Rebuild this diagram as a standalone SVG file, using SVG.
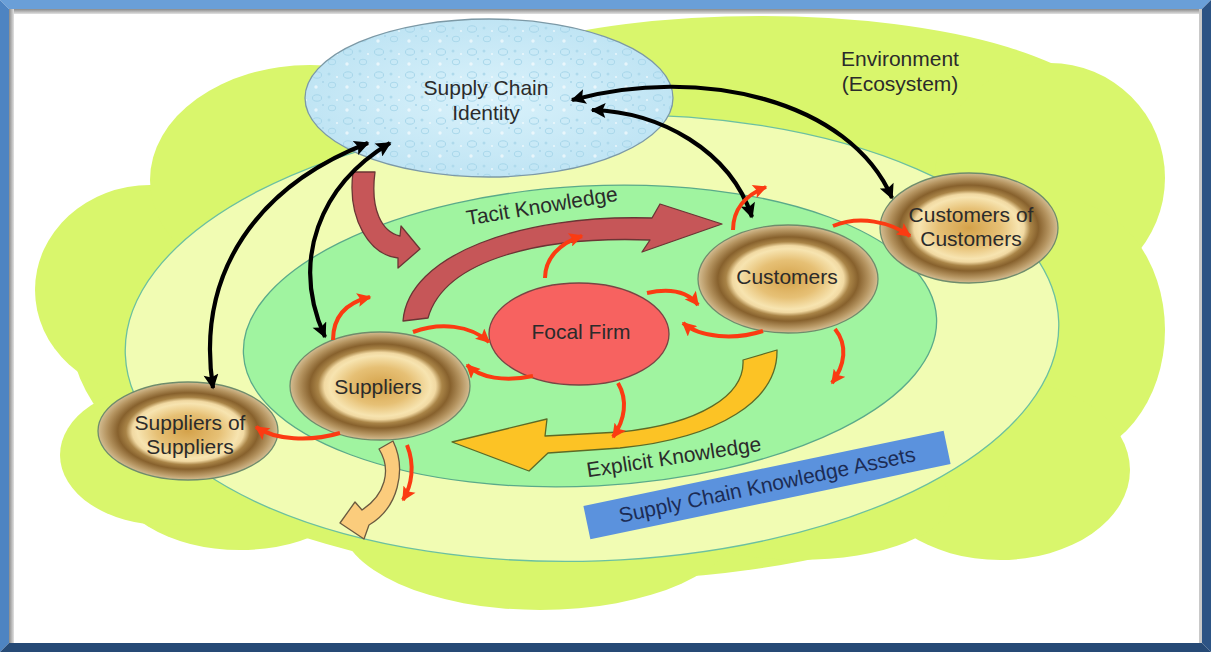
<svg xmlns="http://www.w3.org/2000/svg" width="1211" height="652" viewBox="0 0 1211 652">
  <defs>
    <style>
      .lbl { font-family: "Liberation Sans", Arial, sans-serif; font-size: 21px; fill: #2b2b2b; text-anchor: middle; }
      .ring { stroke: #6f8c6c; stroke-width: 1.3; fill: url(#ringGrad); }
      .blk { fill: none; stroke: #000; stroke-width: 4.2; marker-start: url(#bkHead); marker-end: url(#bkHead); }
      .red { fill: none; stroke: #fb3b12; stroke-width: 4; marker-end: url(#rdHead); }
      .cloud { fill: #d9f66c; }
    </style>
    <radialGradient id="ringGrad" cx="50%" cy="50%" r="50%">
      <stop offset="0%" stop-color="#d4a24a"/>
      <stop offset="35%" stop-color="#e6c075"/>
      <stop offset="56%" stop-color="#f7e4b0"/>
      <stop offset="62%" stop-color="#f1d9a2"/>
      <stop offset="69%" stop-color="#a98447"/>
      <stop offset="78%" stop-color="#87612d"/>
      <stop offset="90%" stop-color="#b4935f"/>
      <stop offset="100%" stop-color="#d4bd92"/>
    </radialGradient>
    <radialGradient id="sciGrad" cx="50%" cy="50%" r="55%">
      <stop offset="0%" stop-color="#daf2fb"/>
      <stop offset="100%" stop-color="#bde3f3"/>
    </radialGradient>
    <pattern id="drops" width="31" height="23" patternUnits="userSpaceOnUse">
      <ellipse cx="7" cy="6" rx="4.5" ry="3.2" fill="none" stroke="#a6d5e9" stroke-width="1"/>
      <ellipse cx="22" cy="16" rx="3.8" ry="2.8" fill="none" stroke="#aad8eb" stroke-width="1"/>
      <circle cx="19" cy="5" r="1.5" fill="#afdaec"/>
      <circle cx="6" cy="18" r="1.7" fill="#ffffff" opacity="0.6"/>
      <circle cx="27" cy="8" r="1.1" fill="#ffffff" opacity="0.6"/>
      <circle cx="13" cy="13" r="1" fill="#a9d6ea"/>
    </pattern>
    <linearGradient id="bevelTop" x1="0" y1="0" x2="0" y2="1">
      <stop offset="0" stop-color="#8a8a8a"/>
      <stop offset="1" stop-color="#e2e2e2"/>
    </linearGradient>
    <linearGradient id="bevelLeft" x1="0" y1="0" x2="1" y2="0">
      <stop offset="0" stop-color="#8a8a8a"/>
      <stop offset="1" stop-color="#e2e2e2"/>
    </linearGradient>
    <marker id="bkHead" viewBox="0 0 10 10" refX="9" refY="5" markerWidth="18" markerHeight="15" markerUnits="userSpaceOnUse" orient="auto-start-reverse">
      <path d="M0,0 L10,5 L0,10 L2,5 z" fill="#000"/>
    </marker>
    <marker id="rdHead" viewBox="0 0 10 10" refX="9" refY="5" markerWidth="15" markerHeight="14" markerUnits="userSpaceOnUse" orient="auto">
      <path d="M0,0 L10,5 L0,10 L2,5 z" fill="#fb3b12"/>
    </marker>
  </defs>

  <!-- frame -->
  <g id="frame">
    <rect x="0" y="0" width="1211" height="652" fill="#ffffff"/>
    <polygon points="0,0 1211,0 1202,9 9,9" fill="#6a9fd8"/>
    <polygon points="0,0 9,9 9,643 0,652" fill="#4e84c2"/>
    <polygon points="1211,0 1211,652 1202,643 1202,9" fill="#2c5384"/>
    <polygon points="0,652 1211,652 1202,643 9,643" fill="#264a76"/>
    <rect x="9" y="9" width="1193" height="5" fill="url(#bevelTop)"/>
    <rect x="9" y="9" width="5" height="634" fill="url(#bevelLeft)"/>
    <rect x="1199" y="9" width="3" height="634" fill="#c9c9c9"/>
  </g>

  <!-- environment cloud -->
  <g id="environment">
    <ellipse class="cloud" cx="600" cy="330" rx="530" ry="250"/>
    <ellipse class="cloud" cx="760" cy="122" rx="350" ry="106"/>
    <circle class="cloud" cx="1050" cy="178" r="115"/>
    <ellipse class="cloud" cx="1060" cy="330" rx="105" ry="130"/>
    <ellipse class="cloud" cx="1000" cy="470" rx="130" ry="90"/>
    <ellipse class="cloud" cx="800" cy="500" rx="150" ry="60"/>
    <ellipse class="cloud" cx="540" cy="520" rx="200" ry="90"/>
    <ellipse class="cloud" cx="240" cy="470" rx="130" ry="80"/>
    <ellipse class="cloud" cx="165" cy="455" rx="105" ry="70"/>
    <ellipse class="cloud" cx="150" cy="290" rx="115" ry="105"/>
    <ellipse class="cloud" cx="310" cy="180" rx="160" ry="115"/>
    <text class="lbl" x="900" y="66">Environment</text>
    <text class="lbl" x="900" y="91">(Ecosystem)</text>
  </g>

  <!-- knowledge zones -->
  <g id="zones">
    <ellipse cx="592" cy="338" rx="467" ry="223" transform="rotate(-2 592 338)" fill="#f1fcb3" stroke="#6cc0a0" stroke-width="1.3"/>
    <ellipse cx="590" cy="336" rx="347" ry="150" transform="rotate(-3 590 336)" fill="#a0f4a0" stroke="#5aaa8a" stroke-width="1.3"/>
  </g>

  <!-- supply chain identity -->
  <g id="identity">
    <ellipse cx="489" cy="98" rx="184" ry="79" fill="url(#sciGrad)"/>
    <ellipse cx="489" cy="98" rx="184" ry="79" fill="url(#drops)" stroke="#7c99a6" stroke-width="1.3"/>
    <text class="lbl" x="486" y="95">Supply Chain</text>
    <text class="lbl" x="486" y="120">Identity</text>
  </g>

  <!-- block arrows for knowledge flows -->
  <g id="flows" stroke-linejoin="round" stroke-width="1.3">
    <path d="M 353 172 C 347 220 370 255 398 258 L 398 268 L 420 249 L 401 226 L 400 236 C 382 232 370 210 375 172 Z" fill="#c65658" stroke="#6b3535"/>
    <path d="M 403 321 C 408 255 520 214 652 218 L 660 204 L 722 224 L 642 252 L 650 240 C 545 236 445 258 428 318 Z" fill="#c65658" stroke="#6b3535"/>
    <path d="M 777 350 C 778 400 720 438 620 448 L 548 453 L 529 471 L 452 442 L 547 419 L 545 436 L 620 432 C 700 424 745 395 743 360 Z" fill="#fcc325" stroke="#5d6a26"/>
    <path d="M 379 449 C 392 470 385 495 362 510 L 355 502 L 340 523 L 364 539 L 369 525 C 398 508 407 470 393 441 Z" fill="#fbcc7c" stroke="#6a5a40"/>
    <g transform="rotate(-9.3 543 213)"><text class="lbl" x="543" y="213">Tacit Knowledge</text></g>
    <g transform="rotate(-8.7 675 464)"><text class="lbl" x="675" y="464">Explicit Knowledge</text></g>
  </g>

  <!-- nodes -->
  <g id="focal-firm">
    <ellipse cx="579" cy="334" rx="90" ry="51" fill="#f76260" stroke="#7a4444" stroke-width="1.3"/>
    <text class="lbl" x="581" y="339">Focal Firm</text>
  </g>
  <g id="suppliers">
    <ellipse class="ring" cx="380" cy="386" rx="90" ry="54"/>
    <text class="lbl" x="378" y="394">Suppliers</text>
  </g>
  <g id="customers">
    <ellipse class="ring" cx="788" cy="279" rx="90" ry="54"/>
    <text class="lbl" x="787" y="284">Customers</text>
  </g>
  <g id="customers-of-customers">
    <ellipse class="ring" cx="969" cy="228" rx="89" ry="55"/>
    <text class="lbl" x="971" y="222">Customers of</text>
    <text class="lbl" x="971" y="246">Customers</text>
  </g>
  <g id="suppliers-of-suppliers">
    <ellipse class="ring" cx="188" cy="431" rx="90" ry="49"/>
    <text class="lbl" x="190" y="430">Suppliers of</text>
    <text class="lbl" x="190" y="454">Suppliers</text>
  </g>

  <!-- connectors -->
  <g id="connectors">
    <path class="blk" d="M 572 100 C 700 65 850 100 892 198"/>
    <path class="blk" d="M 592 110 C 660 112 730 150 752 217"/>
    <path class="blk" d="M 368 143 C 260 185 195 270 213 388"/>
    <path class="blk" d="M 390 143 C 320 185 290 260 325 337"/>

    <path class="red" d="M 545 278 C 545 258 560 243 582 236"/>
    <path class="red" d="M 647 293 C 670 288 688 292 698 305"/>
    <path class="red" d="M 763 331 C 735 340 700 338 683 323"/>
    <path class="red" d="M 835 329 C 848 345 845 365 832 383"/>
    <path class="red" d="M 733 230 C 733 210 745 195 766 187"/>
    <path class="red" d="M 833 226 C 860 215 890 222 910 236"/>
    <path class="red" d="M 413 332 C 440 322 470 325 489 342"/>
    <path class="red" d="M 533 376 C 505 382 480 378 467 365"/>
    <path class="red" d="M 333 340 C 333 318 345 303 370 297"/>
    <path class="red" d="M 618 383 C 628 400 625 420 613 437"/>
    <path class="red" d="M 340 433 C 310 442 275 440 256 427"/>
    <path class="red" d="M 407 445 C 415 465 412 485 403 500"/>
  </g>

  <!-- knowledge assets label -->
  <g id="knowledge-assets" transform="translate(767 485) rotate(-11.8)">
    <rect x="-184" y="-17" width="368" height="34" fill="#5b92dd"/>
    <text class="lbl" x="0" y="7" style="fill:#1c2c55">Supply Chain Knowledge Assets</text>
  </g>
</svg>
